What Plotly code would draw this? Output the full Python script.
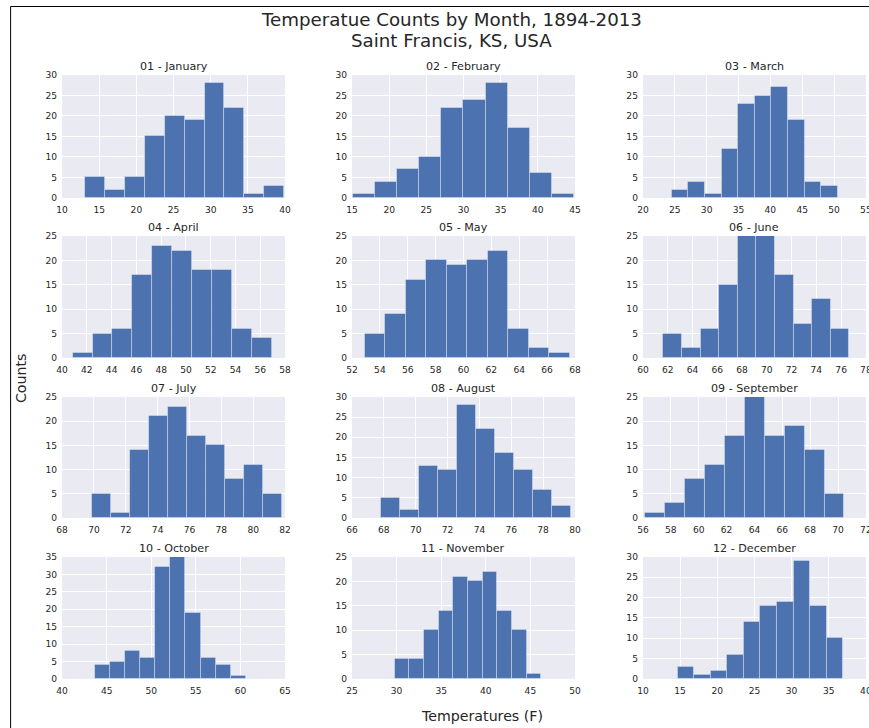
import numpy as np
import plotly.graph_objects as go

# Monthly mean temperature histograms, Saint Francis KS, 1894-2013 (10 bins each)
months = ["01 - January", "02 - February", "03 - March", "04 - April",
          "05 - May", "06 - June", "07 - July", "08 - August",
          "09 - September", "10 - October", "11 - November", "12 - December"]

# lowest and highest value per month (outer bin edges)
bin_lo = [13.1, 15.1, 24.5, 40.86, 52.9, 61.65, 69.88, 67.8, 56.17, 43.66, 29.78, 14.67]
bin_hi = [39.9, 44.9, 50.6, 56.93, 67.63, 76.67, 81.79, 79.73, 70.46, 60.63, 46.23, 36.93]

# counts per bin
counts = [
    [5, 2, 5, 15, 20, 19, 28, 22, 1, 3],
    [1, 4, 7, 10, 22, 24, 28, 17, 6, 1],
    [2, 4, 1, 12, 23, 25, 27, 19, 4, 3],
    [1, 5, 6, 17, 23, 22, 18, 18, 6, 4],
    [5, 9, 16, 20, 19, 20, 22, 6, 2, 1],
    [5, 2, 6, 15, 25, 25, 17, 7, 12, 6],
    [5, 1, 14, 21, 23, 17, 15, 8, 11, 5],
    [5, 2, 13, 12, 28, 22, 16, 12, 7, 3],
    [1, 3, 8, 11, 17, 25, 17, 19, 14, 5],
    [4, 5, 8, 6, 32, 35, 19, 6, 4, 1],
    [4, 4, 10, 14, 21, 20, 22, 14, 10, 1],
    [3, 1, 2, 6, 14, 18, 19, 29, 18, 10],
]

# axis limits and tick steps
x_ranges = [(10, 40), (15, 45), (20, 55), (40, 58), (52, 68), (60, 78),
            (68, 82), (66, 80), (56, 72), (40, 65), (25, 50), (10, 40)]
x_dticks = [5, 5, 5, 2, 2, 2, 2, 2, 2, 5, 5, 5]
y_max = [30, 30, 30, 25, 25, 25, 25, 30, 25, 35, 25, 30]

title_lines = ["Temperatue Counts by Month, 1894-2013", "Saint Francis, KS, USA"]

W, H = 881, 738
K = 0.9866            # layout unit scale
OX, OY = 5.9, 5.0     # layout unit offset
TEXT = "#262626"
FONT = "DejaVu Sans"

col_px = [(62, 285), (352, 575), (643, 866)]
row_px = [(75, 198), (236, 358), (397, 518), (557, 679)]


def px_x(x):
    return ((x - OX) / K) / W


def px_y(y):
    return 1 - ((y - OY) / K) / H


def fs(s):
    return s / K


fig = go.Figure()
annotations = []

for i in range(12):
    r, c = divmod(i, 3)
    n = "" if i == 0 else str(i + 1)
    edges = np.linspace(bin_lo[i], bin_hi[i], len(counts[i]) + 1)
    centers = (edges[:-1] + edges[1:]) / 2
    widths = np.diff(edges)
    fig.add_trace(go.Bar(
        x=centers, y=counts[i], width=widths,
        marker=dict(color="#4C72B0", line=dict(color="rgba(255,255,255,0.35)", width=1)),
        xaxis="x" + n, yaxis="y" + n, showlegend=False, hoverinfo="x+y",
    ))
    x0, x1 = col_px[c]
    y0, y1 = row_px[r]
    common = dict(
        showgrid=True, gridcolor="white", gridwidth=1, zeroline=False,
        showline=False, ticks="", tickfont=dict(family=FONT, size=fs(9), color=TEXT),
        fixedrange=True,
    )
    fig.update_layout(**{
        "xaxis" + n: dict(domain=[px_x(x0), px_x(x1)], range=list(x_ranges[i]),
                          dtick=x_dticks[i], tick0=0, anchor="y" + n,
                          ticklabelstandoff=5, **common),
        "yaxis" + n: dict(domain=[px_y(y1), px_y(y0)], range=[0, y_max[i]],
                          dtick=5, tick0=0, anchor="x" + n,
                          ticklabelstandoff=4, **common),
    })
    annotations.append(dict(
        text=months[i], x=px_x((x0 + x1) / 2), y=px_y(y0 - 8),
        xref="paper", yref="paper", xanchor="center", yanchor="middle",
        showarrow=False, font=dict(family=FONT, size=fs(11), color=TEXT),
    ))

for line, ypx in zip(title_lines, [20, 41]):
    annotations.append(dict(
        text=line, x=px_x(451), y=px_y(ypx), xref="paper", yref="paper",
        xanchor="center", yanchor="middle", showarrow=False,
        font=dict(family=FONT, size=fs(18), color=TEXT)))

annotations += [
    dict(text="Counts", x=px_x(21), y=px_y(378), xref="paper", yref="paper",
         xanchor="center", yanchor="middle", textangle=-90, showarrow=False,
         font=dict(family=FONT, size=fs(14), color=TEXT)),
    dict(text="Temperatures (F)", x=px_x(482), y=px_y(716), xref="paper", yref="paper",
         xanchor="center", yanchor="middle", showarrow=False,
         font=dict(family=FONT, size=fs(14), color=TEXT)),
]

# figure frame
shapes = [
    dict(type="line", xref="paper", yref="paper", x0=px_x(10.5), x1=1.0,
         y0=px_y(6.5), y1=px_y(6.5), line=dict(color="black", width=1)),
    dict(type="line", xref="paper", yref="paper", x0=px_x(10.5), x1=px_x(10.5),
         y0=px_y(6.5), y1=0.0, line=dict(color="black", width=1)),
]

fig.update_layout(
    width=W, height=H, margin=dict(l=0, r=0, t=0, b=0),
    paper_bgcolor="white", plot_bgcolor="#EAEAF2",
    bargap=0, annotations=annotations, shapes=shapes,
    font=dict(family=FONT, color=TEXT),
)

fig.write_html("out.html")
